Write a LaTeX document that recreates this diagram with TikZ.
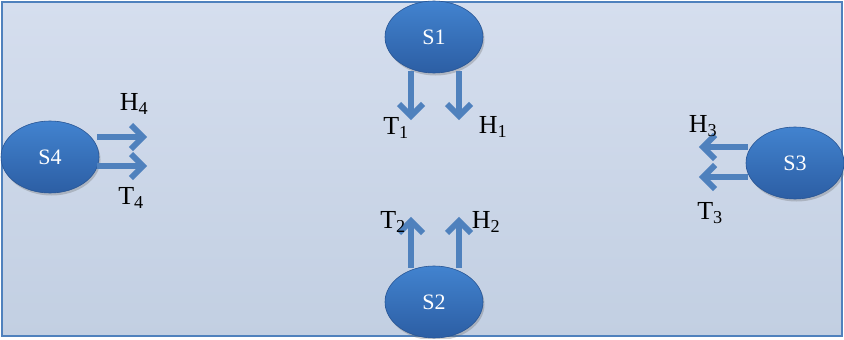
\documentclass[tikz,border=0pt]{standalone}
\usepackage{fontspec}
\setmainfont{Liberation Serif}
\usetikzlibrary{shapes.geometric,shadows}
\definecolor{bgtop}{HTML}{D5DEEE}
\definecolor{bgbot}{HTML}{C2CFE2}
\definecolor{frame}{HTML}{4F81BD}
\definecolor{elltop}{HTML}{4283CF}
\definecolor{ellbot}{HTML}{2C5EA4}
\definecolor{arr}{HTML}{4F81BD}
\tikzset{
  state/.style={ellipse, minimum width=98pt, minimum height=72pt, inner sep=0pt,
    top color=elltop, bottom color=ellbot, draw=ellbot!90!black, line width=0.6pt,
    text=white, font=\fontsize{22pt}{22pt}\selectfont,
    drop shadow={shadow xshift=1.5pt, shadow yshift=-2.5pt, opacity=0.3, fill=black!60}},
  shaft/.style={draw=arr, line width=6pt, line cap=butt},
  barb/.style={draw=arr, line width=6pt, line join=miter, line cap=butt},
  lbl/.style={font=\fontsize{26pt}{26pt}\selectfont, inner sep=0pt}
}
% #1 tip coordinate, #2 direction angle on the page (0 = right, 90 = up)
\newcommand{\barbtip}[2]{%
  \begin{scope}[shift={(#1)}, rotate=#2]
    \draw[barb] (-12,-12) -- (0,0) -- (-12,12);
  \end{scope}}
\begin{document}
\begin{tikzpicture}[x=1pt,y=-1pt]
\useasboundingbox (0,0) rectangle (844,340);
\fill[white] (0,0) rectangle (844,340);
\shade[top color=bgtop, bottom color=bgbot] (2,2) rectangle (842,336);
\draw[frame, line width=1.6pt] (2,2) rectangle (842,336);
\begin{scope}
\clip (0,0) rectangle (844,338);
\node[state] (s1) at (434,37) {S1};
\node[state] (s2) at (434,302) {S2};
\node[state] (s4) at (50,157) {S4};
\node[state] (s3) at (795,163) {S3};
\end{scope}
% S1 arrows (down)
\coordinate (t1e) at (411,116);
\coordinate (h1e) at (459,116);
\draw[shaft] (s1.south -| t1e) ++(0,-2) -- ([yshift=3pt]t1e);
\draw[shaft] (s1.south -| h1e) ++(0,-2) -- ([yshift=3pt]h1e);
\barbtip{t1e}{-90}
\barbtip{h1e}{-90}
% S2 arrows (up)
\coordinate (t2e) at (411,221);
\coordinate (h2e) at (459,221);
\draw[shaft] (s2.north -| t2e) ++(0,2) -- ([yshift=-3pt]t2e);
\draw[shaft] (s2.north -| h2e) ++(0,2) -- ([yshift=-3pt]h2e);
\barbtip{t2e}{90}
\barbtip{h2e}{90}
% S4 arrows (right)
\coordinate (h4e) at (143,137);
\coordinate (t4e) at (143,166);
\draw[shaft] (s4.east |- h4e) ++(-2,0) -- ([xshift=-3pt]h4e);
\draw[shaft] (s4.east |- t4e) ++(-2,0) -- ([xshift=-3pt]t4e);
\barbtip{h4e}{0}
\barbtip{t4e}{0}
% S3 arrows (left)
\coordinate (h3e) at (703,147);
\coordinate (t3e) at (703,177);
\draw[shaft] (s3.west |- h3e) ++(2,0) -- ([xshift=3pt]h3e);
\draw[shaft] (s3.west |- t3e) ++(2,0) -- ([xshift=3pt]t3e);
\barbtip{h3e}{180}
\barbtip{t3e}{180}
% labels
\node[lbl] (T1) at (396,128) {T\textsubscript{1}};
\node[lbl] (H1) at (493,127) {H\textsubscript{1}};
\node[lbl] (T2) at (393,222) {T\textsubscript{2}};
\node[lbl] (H2) at (486,222) {H\textsubscript{2}};
\node[lbl] (H3) at (703,126) {H\textsubscript{3}};
\node[lbl] (T3) at (710,213) {T\textsubscript{3}};
\node[lbl] (H4) at (134,104) {H\textsubscript{4}};
\node[lbl] (T4) at (131,198) {T\textsubscript{4}};
\end{tikzpicture}
\end{document}
